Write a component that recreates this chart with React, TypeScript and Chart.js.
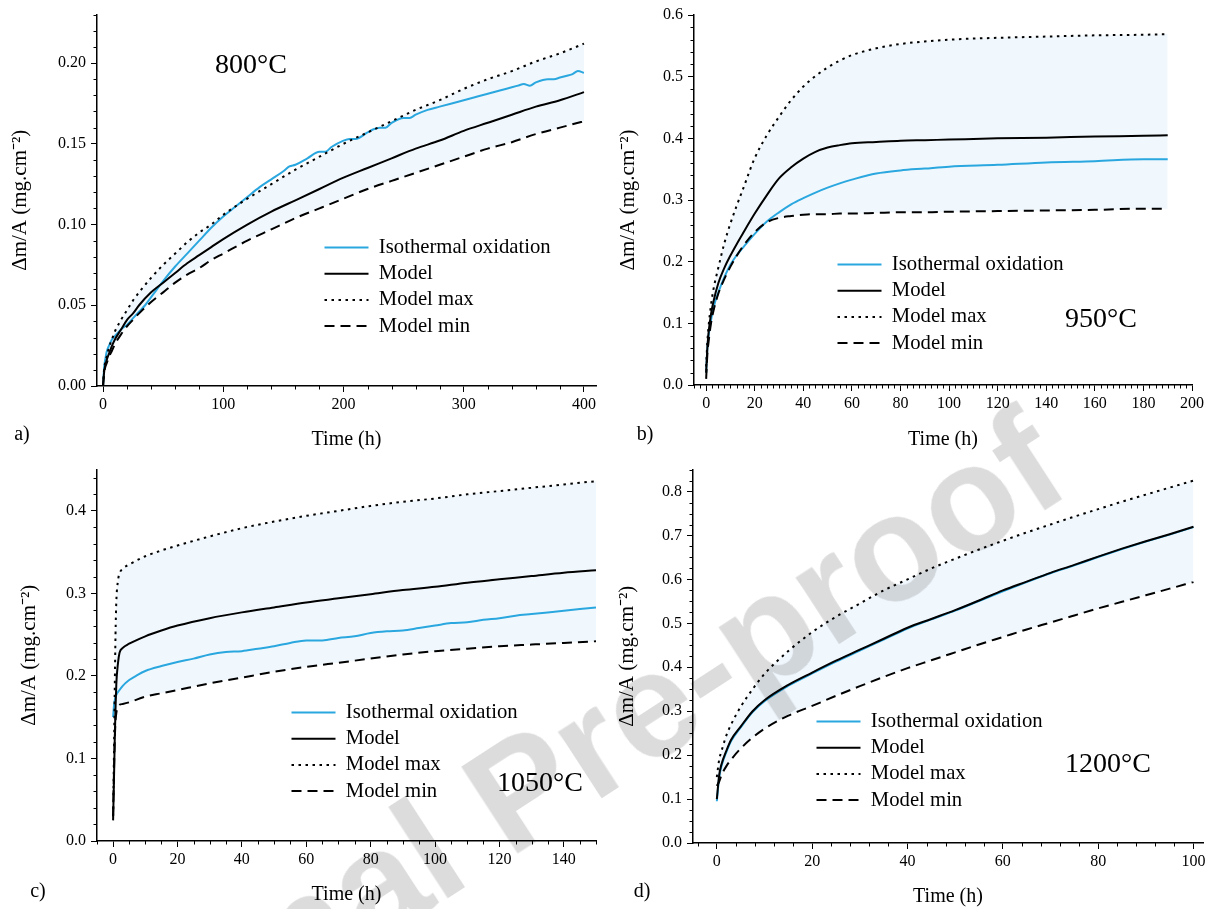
import React, { useEffect, useRef } from "react";
import { Chart, registerables } from "chart.js";

Chart.register(...registerables);

const SERIF = "'Liberation Serif', 'Times New Roman', Times, serif";
const BLUE = "#2AA7DF";
const BAND = "#F1F8FD";

const LEGEND_LABELS = ["Isothermal oxidation", "Model", "Model max", "Model min"];
const Y_TITLE = "Δm/A (mg.cm⁻²)";
const X_TITLE = "Time (h)";
const WATERMARK = "Journal Pre-proof";

// ---------- a) 800°C ----------
const tA_iso = [0, 1, 2, 3, 5, 7.5, 10, 15, 20, 25, 30, 35, 40, 45, 50, 60, 70, 80, 90, 100, 110, 120, 130, 140, 150, 155, 160, 170, 180, 185, 190, 200, 205, 210, 220, 225, 230, 235, 240, 250, 255, 260, 270, 280, 290, 300, 310, 320, 330, 340, 345, 350, 355, 360, 370, 375, 380, 385, 390, 395, 400];
const mA_iso = [0, 0.012, 0.017, 0.021, 0.025, 0.029, 0.031, 0.035, 0.038, 0.042, 0.046, 0.05, 0.055, 0.06, 0.065, 0.074, 0.082, 0.09, 0.098, 0.105, 0.111, 0.117, 0.123, 0.128, 0.133, 0.136, 0.137, 0.141, 0.145, 0.145, 0.148, 0.152, 0.153, 0.153, 0.157, 0.159, 0.16, 0.16, 0.163, 0.166, 0.166, 0.168, 0.171, 0.173, 0.175, 0.177, 0.179, 0.181, 0.183, 0.185, 0.186, 0.187, 0.186, 0.188, 0.19, 0.19, 0.191, 0.192, 0.193, 0.195, 0.194];
const tA_model = [0, 1, 2, 3, 5, 7.5, 10, 15, 20, 25, 30, 40, 50, 60, 70, 80, 90, 100, 120, 140, 160, 180, 200, 220, 240, 260, 280, 300, 320, 340, 360, 380, 400];
const mA_model = [0, 0.009, 0.013, 0.016, 0.02, 0.025, 0.029, 0.035, 0.041, 0.045, 0.05, 0.058, 0.064, 0.07, 0.076, 0.081, 0.086, 0.091, 0.1, 0.108, 0.115, 0.122, 0.129, 0.135, 0.141, 0.147, 0.152, 0.158, 0.163, 0.168, 0.173, 0.177, 0.182];
const mA_max = [0, 0.011, 0.015, 0.018, 0.024, 0.029, 0.034, 0.041, 0.047, 0.053, 0.058, 0.067, 0.075, 0.082, 0.089, 0.095, 0.1, 0.106, 0.116, 0.125, 0.134, 0.142, 0.15, 0.157, 0.164, 0.171, 0.177, 0.184, 0.19, 0.195, 0.201, 0.206, 0.212];
const mA_min = [0, 0.008, 0.012, 0.014, 0.018, 0.022, 0.026, 0.032, 0.037, 0.041, 0.045, 0.052, 0.058, 0.064, 0.069, 0.073, 0.078, 0.082, 0.09, 0.097, 0.104, 0.11, 0.116, 0.122, 0.127, 0.132, 0.137, 0.142, 0.147, 0.151, 0.156, 0.16, 0.164];
const xTicksA = [0, 100, 200, 300, 400];
const yTicksA = [0, 0.05, 0.1, 0.15, 0.2];

// ---------- b) 950°C ----------
const tB = [0, 0.5, 1, 2, 3, 5, 7.5, 10, 12.5, 15, 20, 25, 30, 35, 40, 45, 50, 55, 60, 70, 80, 90, 100, 120, 140, 160, 180, 190];
const mB_iso = [0.02, 0.06, 0.08, 0.105, 0.125, 0.15, 0.175, 0.195, 0.21, 0.222, 0.245, 0.265, 0.28, 0.293, 0.303, 0.312, 0.32, 0.327, 0.333, 0.343, 0.348, 0.351, 0.354, 0.357, 0.361, 0.363, 0.366, 0.366];
const mB_model = [0.02, 0.06, 0.085, 0.115, 0.135, 0.165, 0.19, 0.21, 0.228, 0.245, 0.278, 0.308, 0.335, 0.353, 0.367, 0.378, 0.385, 0.389, 0.392, 0.394, 0.396, 0.397, 0.398, 0.4, 0.401, 0.403, 0.404, 0.405];
const mB_max = [0.03, 0.07, 0.095, 0.13, 0.155, 0.19, 0.23, 0.262, 0.29, 0.316, 0.368, 0.405, 0.435, 0.462, 0.484, 0.501, 0.515, 0.526, 0.535, 0.546, 0.553, 0.557, 0.56, 0.563, 0.565, 0.567, 0.568, 0.569];
const mB_min = [0.01, 0.05, 0.07, 0.1, 0.12, 0.148, 0.172, 0.192, 0.209, 0.224, 0.248, 0.264, 0.271, 0.274, 0.276, 0.277, 0.277, 0.278, 0.278, 0.279, 0.28, 0.28, 0.281, 0.282, 0.283, 0.284, 0.286, 0.286];
const xTicksB = [0, 20, 40, 60, 80, 100, 120, 140, 160, 180, 200];
const yTicksB = [0, 0.1, 0.2, 0.3, 0.4, 0.5, 0.6];

// ---------- c) 1050°C ----------
const tC_iso = [0, 0.3, 0.6, 1, 2, 3, 5, 7.5, 10, 15, 20, 25, 30, 35, 40, 45, 50, 55, 60, 65, 70, 75, 80, 85, 90, 95, 100, 105, 110, 115, 120, 125, 130, 135, 140, 145, 150];
const mC_iso = [0.15, 0.165, 0.172, 0.177, 0.183, 0.188, 0.195, 0.201, 0.206, 0.212, 0.217, 0.221, 0.226, 0.229, 0.23, 0.233, 0.236, 0.24, 0.243, 0.243, 0.246, 0.248, 0.252, 0.254, 0.255, 0.258, 0.261, 0.264, 0.265, 0.268, 0.27, 0.273, 0.275, 0.277, 0.279, 0.281, 0.283];
const tC_model = [0, 0.25, 0.5, 0.75, 1, 1.5, 2, 3, 5, 10, 15, 20, 30, 40, 50, 60, 70, 80, 90, 100, 110, 120, 130, 140, 150];
const mC_model = [0.025, 0.07, 0.12, 0.16, 0.19, 0.215, 0.228, 0.234, 0.239, 0.248, 0.255, 0.261, 0.27, 0.277, 0.283, 0.289, 0.294, 0.299, 0.304, 0.308, 0.313, 0.317, 0.321, 0.325, 0.328];
const mC_max = [0.03, 0.1, 0.18, 0.25, 0.29, 0.315, 0.324, 0.33, 0.335, 0.345, 0.352, 0.358, 0.369, 0.379, 0.387, 0.394, 0.4, 0.406, 0.411, 0.415, 0.42, 0.424, 0.428, 0.432, 0.436];
const mC_min = [0.03, 0.08, 0.12, 0.145, 0.155, 0.162, 0.165, 0.166, 0.168, 0.175, 0.179, 0.183, 0.191, 0.198, 0.205, 0.211, 0.216, 0.221, 0.226, 0.23, 0.233, 0.236, 0.238, 0.24, 0.242];
const xTicksC = [0, 20, 40, 60, 80, 100, 120, 140];
const yTicksC = [0, 0.1, 0.2, 0.3, 0.4];

// ---------- d) 1200°C ----------
const tD = [0, 0.5, 1, 2, 3, 5, 7.5, 10, 15, 20, 25, 30, 35, 40, 45, 50, 55, 60, 65, 70, 75, 80, 85, 90, 95, 100];
const mD_iso = [0.095, 0.15, 0.176, 0.207, 0.232, 0.263, 0.298, 0.323, 0.358, 0.386, 0.413, 0.438, 0.463, 0.488, 0.509, 0.529, 0.551, 0.573, 0.594, 0.614, 0.632, 0.651, 0.669, 0.686, 0.702, 0.719];
const mD_model = [0.1, 0.155, 0.18, 0.21, 0.235, 0.265, 0.3, 0.325, 0.36, 0.388, 0.415, 0.44, 0.465, 0.49, 0.51, 0.53, 0.552, 0.575, 0.595, 0.615, 0.633, 0.652, 0.67, 0.687, 0.703, 0.72];
const mD_max = [0.15, 0.19, 0.21, 0.245, 0.27, 0.31, 0.35, 0.385, 0.437, 0.48, 0.515, 0.545, 0.575, 0.6, 0.625, 0.647, 0.668, 0.688, 0.707, 0.725, 0.743, 0.76, 0.777, 0.793, 0.809, 0.825];
const mD_min = [0.13, 0.14, 0.155, 0.175, 0.19, 0.215, 0.24, 0.26, 0.29, 0.312, 0.335, 0.357, 0.378, 0.398, 0.416, 0.434, 0.452, 0.469, 0.486, 0.502, 0.518, 0.534, 0.549, 0.564, 0.579, 0.594];
const xTicksD = [0, 20, 40, 60, 80, 100];
const yTicksD = [0, 0.1, 0.2, 0.3, 0.4, 0.5, 0.6, 0.7, 0.8];

type PanelCfg = {
  key: string;
  pageX: number;
  pageY: number;
  w: number;
  h: number;
  area: { left: number; top: number; right: number; bottom: number };
  xMin: number; xMax: number; xMajors: number[]; xMinor: number;
  yMin: number; yMax: number; yMajors: number[]; yMinor: number; yDec: number;
  yTitlePad: number; xTitlePad: number;
  legendX: number; legendY: number;
  tIso: number[]; iso: number[]; tModel: number[]; model: number[]; max: number[]; min: number[];
  temp: string; tempX: number; tempY: number;
  letter: string; letterX: number; letterY: number;
};

const PANELS: PanelCfg[] = [
  {
    key: "a", pageX: 0, pageY: 0, w: 605, h: 455,
    area: { left: 97, top: 12, right: 596, bottom: 386 },
    xMin: -5, xMax: 410, xMajors: xTicksA, xMinor: 20,
    yMin: 0, yMax: 0.23, yMajors: yTicksA, yMinor: 0.01, yDec: 2,
    yTitlePad: 8, xTitlePad: 3,
    legendX: 325, legendY: 248,
    tIso: tA_iso, iso: mA_iso, tModel: tA_model, model: mA_model, max: mA_max, min: mA_min,
    temp: "800°C", tempX: 251, tempY: 64,
    letter: "a)", letterX: 22, letterY: 433,
  },
  {
    key: "b", pageX: 605, pageY: 0, w: 605, h: 455,
    area: { left: 89, top: 15, right: 587, bottom: 385 },
    xMin: -5, xMax: 200, xMajors: xTicksB, xMinor: 2.5,
    yMin: 0, yMax: 0.6, yMajors: yTicksB, yMinor: 0.02, yDec: 1,
    yTitlePad: 11, xTitlePad: 3,
    legendX: 233, legendY: 265,
    tIso: tB, iso: mB_iso, tModel: tB, model: mB_model, max: mB_max, min: mB_min,
    temp: "950°C", tempX: 1101, tempY: 318,
    letter: "b)", letterX: 645, letterY: 433,
  },
  {
    key: "c", pageX: 0, pageY: 455, w: 605, h: 454,
    area: { left: 97, top: 14, right: 596, bottom: 386 },
    xMin: -5, xMax: 150, xMajors: xTicksC, xMinor: 5,
    yMin: 0, yMax: 0.45, yMajors: yTicksC, yMinor: 0.02, yDec: 1,
    yTitlePad: 17, xTitlePad: 2,
    legendX: 292, legendY: 258,
    tIso: tC_iso, iso: mC_iso, tModel: tC_model, model: mC_model, max: mC_max, min: mC_min,
    temp: "1050°C", tempX: 540, tempY: 782,
    letter: "c)", letterX: 38, letterY: 890,
  },
  {
    key: "d", pageX: 605, pageY: 455, w: 605, h: 454,
    area: { left: 88, top: 13, right: 598, bottom: 388 },
    xMin: -5, xMax: 102, xMajors: xTicksD, xMinor: 4,
    yMin: 0, yMax: 0.85, yMajors: yTicksD, yMinor: 0.025, yDec: 1,
    yTitlePad: 10, xTitlePad: 0,
    legendX: 212, legendY: 267,
    tIso: tD, iso: mD_iso, tModel: tD, model: mD_model, max: mD_max, min: mD_min,
    temp: "1200°C", tempX: 1108, tempY: 763,
    letter: "d)", letterX: 642, letterY: 890,
  },
];

const isMajor = (v: number, majors: number[]) => majors.some((m) => Math.abs(m - v) < 1e-9);

function PanelChart({ cfg }: { cfg: PanelCfg }) {
  const ref = useRef<HTMLCanvasElement>(null);

  useEffect(() => {
    const canvas = ref.current;
    if (!canvas) return;
    const pts = (xs: number[], ys: number[]) => xs.map((x, i) => ({ x, y: ys[i] }));
    const common = { pointRadius: 0, pointHoverRadius: 0, cubicInterpolationMode: "monotone" as const, fill: false };

    const datasets: any[] = [
      { ...common, label: LEGEND_LABELS[0], data: pts(cfg.tIso, cfg.iso), borderColor: BLUE, borderWidth: 2, order: 1 },
      { ...common, label: LEGEND_LABELS[1], data: pts(cfg.tModel, cfg.model), borderColor: "#000", borderWidth: 2, order: 0 },
      { ...common, label: LEGEND_LABELS[2], data: pts(cfg.tModel, cfg.max), borderColor: "#000", borderWidth: 2, borderDash: [2.5, 4.5], order: 0, fill: 3, backgroundColor: BAND },
      { ...common, label: LEGEND_LABELS[3], data: pts(cfg.tModel, cfg.min), borderColor: "#000", borderWidth: 2, borderDash: [10, 6], order: 0 },
    ];

    const minorTicks = {
      id: "minorTicks",
      afterDraw(chart: any) {
        const ctx = chart.ctx as CanvasRenderingContext2D;
        const xs = chart.scales.x;
        const ys = chart.scales.y;
        ctx.save();
        ctx.strokeStyle = "#000";
        ctx.lineWidth = 1;
        const kx0 = Math.ceil(xs.min / cfg.xMinor - 1e-9);
        const kx1 = Math.floor(xs.max / cfg.xMinor + 1e-9);
        for (let k = kx0; k <= kx1; k++) {
          const v = k * cfg.xMinor;
          if (isMajor(v, cfg.xMajors)) continue;
          const px = Math.round(xs.getPixelForValue(v)) + 0.5;
          ctx.beginPath();
          ctx.moveTo(px, ys.bottom);
          ctx.lineTo(px, ys.bottom + 3.5);
          ctx.stroke();
        }
        const ky0 = Math.ceil(ys.min / cfg.yMinor - 1e-9);
        const ky1 = Math.floor(ys.max / cfg.yMinor + 1e-9);
        for (let k = ky0; k <= ky1; k++) {
          const v = k * cfg.yMinor;
          if (isMajor(v, cfg.yMajors)) continue;
          const py = Math.round(ys.getPixelForValue(v)) + 0.5;
          ctx.beginPath();
          ctx.moveTo(xs.left, py);
          ctx.lineTo(xs.left - 3.5, py);
          ctx.stroke();
        }
        ctx.restore();
      },
    };

    const legendPlace = {
      id: "legendPlace",
      afterLayout(chart: any) {
        const lg = chart.legend;
        if (!lg) return;
        const pad = 6;
        lg.left = cfg.legendX - pad;
        lg.top = cfg.legendY - 10.35 - pad;
        lg.width = 320;
        lg.height = 300;
        lg.right = lg.left + 320;
        lg.bottom = lg.top + 300;
      },
    };

    const tickFont = { family: SERIF, size: 16 };
    const gridOpts = {
      display: true,
      drawOnChartArea: false,
      drawTicks: true,
      tickLength: 6,
      tickColor: "#000",
      tickWidth: 1,
      color: "#000",
    };
    const borderOpts = { display: true, color: "#000", width: 1.5 };

    const chart = new Chart(canvas, {
      type: "line",
      data: { datasets },
      plugins: [minorTicks, legendPlace],
      options: {
        responsive: false,
        maintainAspectRatio: false,
        animation: false,
        events: [],
        layout: {
          padding: { left: 0, top: cfg.area.top, right: cfg.w - cfg.area.right, bottom: 0 },
        },
        plugins: {
          filler: { drawTime: "beforeDatasetsDraw" },
          tooltip: { enabled: false },
          legend: {
            display: true,
            position: "chartArea",
            align: "start",
            labels: {
              usePointStyle: true,
              pointStyle: "line",
              pointStyleWidth: 44,
              padding: 5.5,
              color: "#000",
              font: { family: SERIF, size: 20.7 },
              generateLabels: (ch: any) =>
                ch.data.datasets.map((ds: any, i: number) => ({
                  text: ds.label,
                  datasetIndex: i,
                  strokeStyle: ds.borderColor,
                  fillStyle: ds.borderColor,
                  lineWidth: ds.borderWidth,
                  lineDash: ds.borderDash || [],
                  lineCap: "butt",
                  pointStyle: "line",
                  hidden: false,
                  fontColor: "#000",
                })),
            },
          },
        } as any,
        scales: {
          x: {
            type: "linear",
            min: cfg.xMin,
            max: cfg.xMax,
            afterBuildTicks: (s: any) => {
              s.ticks = cfg.xMajors.map((v) => ({ value: v }));
            },
            afterFit: (s: any) => {
              s.height = cfg.h - cfg.area.bottom;
            },
            ticks: {
              autoSkip: false,
              maxRotation: 0,
              padding: 3,
              color: "#000",
              font: tickFont,
              callback: (v: any) => String(Number(v)),
            },
            grid: gridOpts,
            border: borderOpts,
            title: {
              display: true,
              text: X_TITLE,
              color: "#000",
              font: { family: SERIF, size: 20 },
              padding: { top: 0, bottom: cfg.xTitlePad },
            },
          },
          y: {
            type: "linear",
            min: cfg.yMin,
            max: cfg.yMax,
            afterBuildTicks: (s: any) => {
              s.ticks = cfg.yMajors.map((v) => ({ value: v }));
            },
            afterFit: (s: any) => {
              s.width = cfg.area.left;
            },
            ticks: {
              autoSkip: false,
              padding: 5,
              color: "#000",
              font: tickFont,
              callback: (v: any) => Number(v).toFixed(cfg.yDec),
            },
            grid: gridOpts,
            border: borderOpts,
            title: {
              display: true,
              text: Y_TITLE,
              color: "#000",
              font: { family: SERIF, size: 21 },
              padding: { top: cfg.yTitlePad, bottom: 0 },
            },
          },
        } as any,
      },
    } as any);

    return () => chart.destroy();
  }, [cfg]);

  return (
    <canvas
      ref={ref}
      width={cfg.w}
      height={cfg.h}
      style={{ position: "absolute", left: cfg.pageX, top: cfg.pageY, width: cfg.w, height: cfg.h }}
    />
  );
}

export default function App() {
  return (
    <div
      style={{
        position: "absolute",
        left: 0,
        top: 0,
        width: 1210,
        height: 909,
        overflow: "hidden",
        background: "#fff",
        fontFamily: SERIF,
      }}
    >
      {PANELS.map((p) => (
        <PanelChart key={p.key} cfg={p} />
      ))}
      {PANELS.map((p) => (
        <div
          key={"t" + p.key}
          style={{
            position: "absolute",
            left: p.tempX,
            top: p.tempY,
            transform: "translate(-50%, -50%)",
            fontSize: 28,
            lineHeight: 1,
            color: "#000",
            whiteSpace: "nowrap",
          }}
        >
          {p.temp}
        </div>
      ))}
      {PANELS.map((p) => (
        <div
          key={"l" + p.key}
          style={{
            position: "absolute",
            left: p.letterX,
            top: p.letterY,
            transform: "translate(-50%, -50%)",
            fontSize: 20,
            lineHeight: 1,
            color: "#000",
            whiteSpace: "nowrap",
          }}
        >
          {p.letter}
        </div>
      ))}
      <div
        style={{
          position: "absolute",
          left: 519,
          top: 790,
          transform: "translate(-50%, -50%) rotate(-33deg)",
          fontFamily: "'Liberation Sans', Arial, sans-serif",
          fontWeight: 700,
          fontSize: 150,
          lineHeight: 1,
          color: "#dcdcdc",
          mixBlendMode: "multiply",
          whiteSpace: "nowrap",
          pointerEvents: "none",
        }}
      >
        {WATERMARK}
      </div>
    </div>
  );
}
